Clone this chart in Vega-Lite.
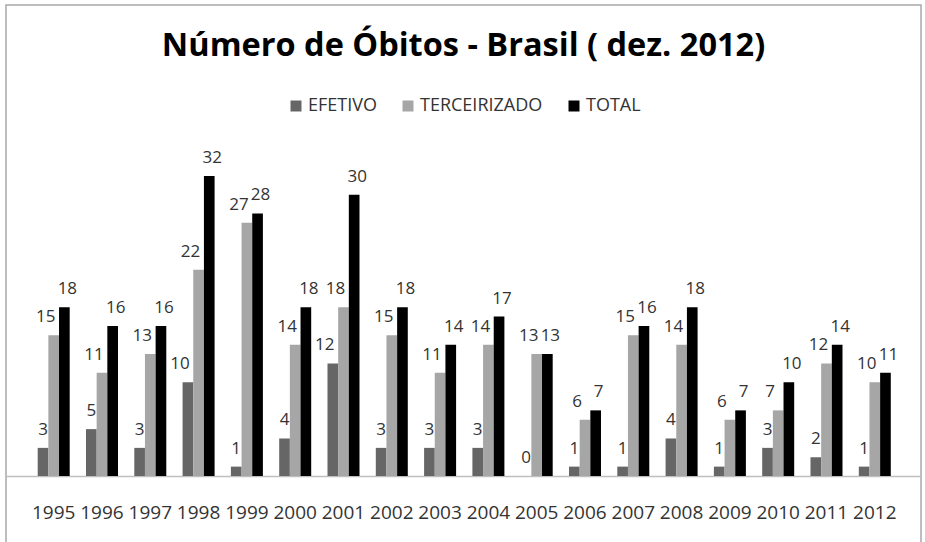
{
  "$schema": "https://vega.github.io/schema/vega-lite/v6.json",
  "autosize": "none",
  "width": 915,
  "height": 541,
  "padding": {"left": 6, "top": 5, "right": 4, "bottom": -4},
  "background": "white",
  "config": {
    "view": {"stroke": "#a8a8a8", "strokeWidth": 1.5},
    "font": "Open Sans"
  },
  "title": {
    "text": "Número de Óbitos - Brasil ( dez. 2012)",
    "font": "Open Sans",
    "fontSize": 32.5,
    "fontWeight": "bold",
    "color": "#000000",
    "anchor": "middle",
    "frame": "group",
    "baseline": "alphabetic",
    "offset": -83
  },
  "data": {
    "values": [
      {"ano": "1995", "tipo": "EFETIVO", "valor": 3},
      {"ano": "1995", "tipo": "TERCEIRIZADO", "valor": 15},
      {"ano": "1995", "tipo": "TOTAL", "valor": 18},
      {"ano": "1996", "tipo": "EFETIVO", "valor": 5},
      {"ano": "1996", "tipo": "TERCEIRIZADO", "valor": 11},
      {"ano": "1996", "tipo": "TOTAL", "valor": 16},
      {"ano": "1997", "tipo": "EFETIVO", "valor": 3},
      {"ano": "1997", "tipo": "TERCEIRIZADO", "valor": 13},
      {"ano": "1997", "tipo": "TOTAL", "valor": 16},
      {"ano": "1998", "tipo": "EFETIVO", "valor": 10},
      {"ano": "1998", "tipo": "TERCEIRIZADO", "valor": 22},
      {"ano": "1998", "tipo": "TOTAL", "valor": 32},
      {"ano": "1999", "tipo": "EFETIVO", "valor": 1},
      {"ano": "1999", "tipo": "TERCEIRIZADO", "valor": 27},
      {"ano": "1999", "tipo": "TOTAL", "valor": 28},
      {"ano": "2000", "tipo": "EFETIVO", "valor": 4},
      {"ano": "2000", "tipo": "TERCEIRIZADO", "valor": 14},
      {"ano": "2000", "tipo": "TOTAL", "valor": 18},
      {"ano": "2001", "tipo": "EFETIVO", "valor": 12},
      {"ano": "2001", "tipo": "TERCEIRIZADO", "valor": 18},
      {"ano": "2001", "tipo": "TOTAL", "valor": 30},
      {"ano": "2002", "tipo": "EFETIVO", "valor": 3},
      {"ano": "2002", "tipo": "TERCEIRIZADO", "valor": 15},
      {"ano": "2002", "tipo": "TOTAL", "valor": 18},
      {"ano": "2003", "tipo": "EFETIVO", "valor": 3},
      {"ano": "2003", "tipo": "TERCEIRIZADO", "valor": 11},
      {"ano": "2003", "tipo": "TOTAL", "valor": 14},
      {"ano": "2004", "tipo": "EFETIVO", "valor": 3},
      {"ano": "2004", "tipo": "TERCEIRIZADO", "valor": 14},
      {"ano": "2004", "tipo": "TOTAL", "valor": 17},
      {"ano": "2005", "tipo": "EFETIVO", "valor": 0},
      {"ano": "2005", "tipo": "TERCEIRIZADO", "valor": 13},
      {"ano": "2005", "tipo": "TOTAL", "valor": 13},
      {"ano": "2006", "tipo": "EFETIVO", "valor": 1},
      {"ano": "2006", "tipo": "TERCEIRIZADO", "valor": 6},
      {"ano": "2006", "tipo": "TOTAL", "valor": 7},
      {"ano": "2007", "tipo": "EFETIVO", "valor": 1},
      {"ano": "2007", "tipo": "TERCEIRIZADO", "valor": 15},
      {"ano": "2007", "tipo": "TOTAL", "valor": 16},
      {"ano": "2008", "tipo": "EFETIVO", "valor": 4},
      {"ano": "2008", "tipo": "TERCEIRIZADO", "valor": 14},
      {"ano": "2008", "tipo": "TOTAL", "valor": 18},
      {"ano": "2009", "tipo": "EFETIVO", "valor": 1},
      {"ano": "2009", "tipo": "TERCEIRIZADO", "valor": 6},
      {"ano": "2009", "tipo": "TOTAL", "valor": 7},
      {"ano": "2010", "tipo": "EFETIVO", "valor": 3},
      {"ano": "2010", "tipo": "TERCEIRIZADO", "valor": 7},
      {"ano": "2010", "tipo": "TOTAL", "valor": 10},
      {"ano": "2011", "tipo": "EFETIVO", "valor": 2},
      {"ano": "2011", "tipo": "TERCEIRIZADO", "valor": 12},
      {"ano": "2011", "tipo": "TOTAL", "valor": 14},
      {"ano": "2012", "tipo": "EFETIVO", "valor": 1},
      {"ano": "2012", "tipo": "TERCEIRIZADO", "valor": 10},
      {"ano": "2012", "tipo": "TOTAL", "valor": 11}
    ]
  },
  "encoding": {
    "x": {
      "field": "ano",
      "type": "nominal",
      "scale": {"paddingInner": 0.3375, "paddingOuter": 0.6408, "align": 0.512},
      "axis": {
        "title": null,
        "orient": "bottom",
        "offset": -70,
        "labelAngle": 0,
        "ticks": false,
        "domainColor": "#bfbfbf",
        "domainWidth": 1.5,
        "labelFont": "Open Sans",
        "labelFontSize": 19,
        "labelColor": "#333333",
        "labelPadding": 27,
        "labelBaseline": "top"
      }
    },
    "xOffset": {
      "field": "tipo",
      "type": "nominal",
      "sort": ["EFETIVO", "TERCEIRIZADO", "TOTAL"],
      "scale": {"paddingInner": 0, "paddingOuter": 0}
    },
    "y": {
      "field": "valor",
      "type": "quantitative",
      "scale": {"domain": [-7.467, 50.24], "nice": false, "zero": false},
      "axis": null
    }
  },
  "layer": [
    {
      "mark": {"type": "bar"},
      "encoding": {
        "color": {
          "field": "tipo",
          "type": "nominal",
          "sort": ["EFETIVO", "TERCEIRIZADO", "TOTAL"],
          "scale": {
            "domain": ["EFETIVO", "TERCEIRIZADO", "TOTAL"],
            "range": ["#666666", "#a6a6a6", "#000000"]
          },
          "legend": {
            "title": null,
            "orient": "none",
            "direction": "horizontal",
            "legendX": 281,
            "legendY": 92,
            "symbolType": "square",
            "symbolSize": 121,
            "symbolStrokeWidth": 0,
            "labelFont": "Open Sans",
            "labelFontSize": 18,
            "labelColor": "#333333",
            "labelOffset": 3,
            "columnPadding": 22,
            "padding": 0
          }
        }
      }
    },
    {
      "transform": [{"filter": "datum.tipo == 'EFETIVO' && datum.valor < 10"}],
      "mark": {
        "type": "text",
        "baseline": "alphabetic",
        "dy": -13,
        "font": "Open Sans",
        "fontSize": 17,
        "color": "#333333"
      },
      "encoding": {
        "text": {"field": "valor", "type": "quantitative"}
      }
    },
    {
      "transform": [{"filter": "datum.tipo == 'EFETIVO' && datum.valor >= 10"}],
      "mark": {
        "type": "text",
        "baseline": "alphabetic",
        "dy": -13,
        "dx": -8,
        "font": "Open Sans",
        "fontSize": 17,
        "color": "#333333"
      },
      "encoding": {
        "text": {"field": "valor", "type": "quantitative"}
      }
    },
    {
      "transform": [{"filter": "datum.tipo == 'TERCEIRIZADO'"}],
      "mark": {
        "type": "text",
        "baseline": "alphabetic",
        "dy": -13,
        "dx": -8,
        "font": "Open Sans",
        "fontSize": 17,
        "color": "#333333"
      },
      "encoding": {
        "text": {"field": "valor", "type": "quantitative"}
      }
    },
    {
      "transform": [{"filter": "datum.tipo == 'TOTAL'"}],
      "mark": {
        "type": "text",
        "baseline": "alphabetic",
        "dy": -13,
        "dx": 3,
        "font": "Open Sans",
        "fontSize": 17,
        "color": "#333333"
      },
      "encoding": {
        "text": {"field": "valor", "type": "quantitative"}
      }
    }
  ]
}
